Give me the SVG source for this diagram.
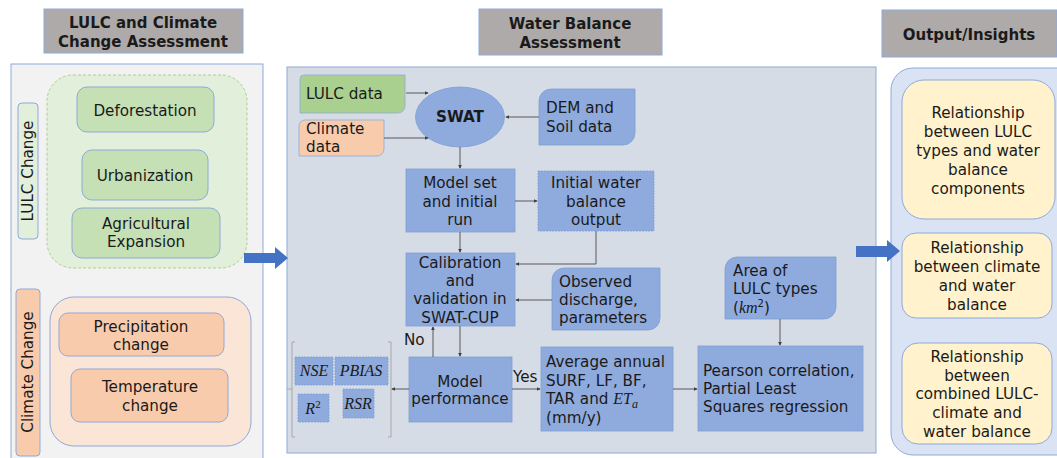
<svg xmlns="http://www.w3.org/2000/svg" width="1057" height="458" viewBox="0 0 1057 458">
<defs>
<marker id="ah" viewBox="0 0 6 6" refX="5" refY="3" markerWidth="4" markerHeight="4" orient="auto"><path d="M0,0 L6,3 L0,6 Z" fill="#404040"/></marker>
<style>
text{font-family:"DejaVu Sans",Verdana,sans-serif;font-size:15.2px;fill:#1a1a1a}
.c{text-anchor:middle}
.hd{font-weight:bold;font-size:15px;text-anchor:middle}
.hdr{fill:#aeaaaa;stroke:#8ea9db;stroke-width:1}
.nd{fill:#8faadc;stroke:#7f9fd6;stroke-width:0.8}
.gr{fill:#c5e0b4;stroke:#8ea9db;stroke-width:1}
.or{fill:#f8cbad;stroke:#8ea9db;stroke-width:1}
.ye{fill:#fff2cc;stroke:#8ea9db;stroke-width:1}
.m{font-family:"Liberation Serif","DejaVu Serif",serif;font-style:italic;font-size:16px}
.cn{fill:none;stroke:#595959;stroke-width:1;marker-end:url(#ah)}
.ln{fill:none;stroke:#595959;stroke-width:1}
.big{fill:#4472c4}
</style>
</defs>

<g id="panels">
<rect class="hdr" x="44" y="9" width="199" height="44"/>
<text class="hd" x="143" y="28">LULC and Climate</text>
<text class="hd" x="143" y="47">Change Assessment</text>
<rect x="11" y="64" width="252" height="400" fill="#f2f2f2" stroke="#8ea9db"/>

<rect class="hdr" x="479" y="9" width="183" height="46"/>
<text class="hd" x="570" y="29">Water Balance</text>
<text class="hd" x="570" y="48">Assessment</text>
<rect x="287" y="67" width="589" height="386" fill="#d6dce5" stroke="#8ea9db"/>

<rect class="hdr" x="882" y="10" width="175" height="47"/>
<text class="hd" x="969" y="40">Output/Insights</text>
<rect x="891" y="68" width="190" height="387" rx="22" fill="#dae3f3" stroke="#8ea9db"/>
</g>

<g id="lulc-change">
<rect x="18" y="103" width="20" height="136" rx="4" fill="#e2efda" stroke="#8ea9db"/>
<text class="c" transform="translate(33,171) rotate(-90)">LULC Change</text>
<rect x="47" y="75" width="200" height="193" rx="26" fill="#e2efda" stroke="#a9d08e" stroke-dasharray="3,2"/>
</g>
<g id="deforestation"><rect class="gr" x="77" y="87" width="137" height="45" rx="10"/><text class="c" x="145" y="116">Deforestation</text></g>
<g id="urbanization"><rect class="gr" x="82" y="150" width="126" height="50" rx="10"/><text class="c" x="145" y="181">Urbanization</text></g>
<g id="agricultural"><rect class="gr" x="72" y="208" width="148" height="50" rx="10"/><text class="c" x="146" y="229">Agricultural</text><text class="c" x="146" y="247">Expansion</text></g>

<g id="climate-change">
<rect x="16" y="289" width="24" height="167" rx="4" fill="#f8cbad" stroke="#8ea9db"/>
<text class="c" transform="translate(33,372) rotate(-90)">Climate Change</text>
<rect x="50" y="297" width="201" height="149" rx="24" fill="#fbe5d6" stroke="#8ea9db"/>
</g>
<g id="precipitation"><rect class="or" x="59" y="313" width="165" height="43" rx="9"/><text class="c" x="141" y="332">Precipitation</text><text class="c" x="141" y="350">change</text></g>
<g id="temperature"><rect class="or" x="71" y="369" width="157" height="53" rx="9"/><text class="c" x="150" y="392">Temperature</text><text class="c" x="150" y="411">change</text></g>

<g id="lulc-data"><path d="M304,75 H405 V106 A7,7 0 0 1 398,113 H300 V79 A4,4 0 0 1 304,75 Z" fill="#a9d08e" stroke="#8ea9db" stroke-width="0.8"/><text x="306" y="99">LULC data</text></g>
<g id="climate-data"><path d="M305,120 H384 V149 A7,7 0 0 1 377,156 H299 V126 A6,6 0 0 1 305,120 Z" fill="#f8cbad" stroke="#8ea9db" stroke-width="0.8"/><text x="306" y="134">Climate</text><text x="306" y="152">data</text></g>
<g id="swat"><ellipse class="nd" cx="460" cy="117" rx="44.5" ry="30"/><text class="c" x="460" y="122" font-weight="bold" font-size="15.5px">SWAT</text></g>
<g id="dem"><path class="nd" d="M551,89 H635 V133 A12,12 0 0 1 623,145 H539 V101 A12,12 0 0 1 551,89 Z"/><text x="546" y="113">DEM and</text><text x="546" y="132">Soil data</text></g>
<g id="model-set"><rect class="nd" x="406" y="169" width="109" height="63"/><text class="c" x="460" y="188">Model set</text><text class="c" x="460" y="207">and initial</text><text class="c" x="460" y="225">run</text></g>
<g id="initial-output"><rect class="nd" x="538" y="171" width="116" height="60" stroke-dasharray="2,1"/><text class="c" x="596" y="188">Initial water</text><text class="c" x="596" y="207">balance</text><text class="c" x="596" y="225">output</text></g>
<g id="calibration"><rect class="nd" x="406" y="253" width="109" height="73"/><text class="c" x="460" y="268">Calibration</text><text class="c" x="460" y="286">and</text><text class="c" x="460" y="304">validation in</text><text class="c" x="460" y="323">SWAT-CUP</text></g>
<g id="observed"><path class="nd" d="M564,268 H660 V318 A12,12 0 0 1 648,330 H552 V280 A12,12 0 0 1 564,268 Z"/><text x="559" y="287">Observed</text><text x="559" y="305">discharge,</text><text x="559" y="323">parameters</text></g>
<g id="model-performance"><rect class="nd" x="409" y="357" width="103" height="65"/><text class="c" x="460" y="387">Model</text><text class="c" x="460" y="404">performance</text></g>
<g id="metrics">
<path d="M295,342 H292 V437 H295 M388,342 H391 V437 H388 M287,389 H292" fill="none" stroke="#a6a6a6" stroke-width="1"/>
<rect class="nd" x="295" y="357" width="38" height="28" stroke-dasharray="2,1"/><text class="m c" x="314" y="376">NSE</text>
<rect class="nd" x="335" y="357" width="53" height="28" stroke-dasharray="2,1"/><text class="m c" x="361" y="376">PBIAS</text>
<rect class="nd" x="298" y="394" width="31" height="28" stroke-dasharray="2,1"/><text class="m c" x="313" y="414">R<tspan font-style="normal" font-size="11px" dy="-6">2</tspan></text>
<rect class="nd" x="343" y="389" width="31" height="29" stroke-dasharray="2,1"/><text class="m c" x="358" y="409">RSR</text>
</g>
<g id="average-annual"><rect class="nd" x="541" y="347" width="132" height="84"/><text x="546" y="367">Average annual</text><text x="546" y="386">SURF, LF, BF,</text><text x="546" y="404">TAR and <tspan font-family="Liberation Serif,serif" font-style="italic" font-size="16px">ET</tspan><tspan font-family="Liberation Serif,serif" font-style="italic" font-size="12px" dy="4">a</tspan></text><text x="546" y="423">(mm/y)</text></g>
<g id="area"><path class="nd" d="M737,257 H836 V307 A12,12 0 0 1 824,319 H725 V269 A12,12 0 0 1 737,257 Z"/><text x="733" y="276">Area of</text><text x="733" y="294">LULC types</text><text x="733" y="313">(<tspan font-family="Liberation Serif,serif" font-style="italic" font-size="16px">km</tspan><tspan font-size="10px" dy="-6">2</tspan><tspan dy="6">)</tspan></text></g>
<g id="pearson"><rect class="nd" x="698" y="346" width="165" height="85"/><text x="703" y="376">Pearson correlation,</text><text x="703" y="394">Partial Least</text><text x="703" y="412">Squares regression</text></g>

<g id="insight1"><rect class="ye" x="902" y="80" width="153" height="139" rx="22"/><text class="c" x="978" y="118">Relationship</text><text class="c" x="978" y="137">between LULC</text><text class="c" x="978" y="156">types and water</text><text class="c" x="978" y="175">balance</text><text class="c" x="978" y="194">components</text></g>
<g id="insight2"><rect class="ye" x="902" y="233" width="150" height="85" rx="14"/><text class="c" x="977" y="253">Relationship</text><text class="c" x="977" y="272">between climate</text><text class="c" x="977" y="291">and water</text><text class="c" x="977" y="310">balance</text></g>
<g id="insight3"><rect class="ye" x="902" y="343" width="150" height="101" rx="16"/><text class="c" x="977" y="362">Relationship</text><text class="c" x="977" y="381">between</text><text class="c" x="977" y="399">combined LULC-</text><text class="c" x="977" y="418">climate and</text><text class="c" x="977" y="437">water balance</text></g>

<g id="connectors">
<polygon class="big" points="244,253 275,253 275,247 288,258 275,269 275,263 244,263"/>
<polygon class="big" points="856,246 887,246 887,240 900,251 887,262 887,257 856,257"/>
<path class="cn" d="M406,93 H428"/>
<path class="cn" d="M384,138 H428"/>
<path class="cn" d="M539,117 H506"/>
<path class="cn" d="M460,147 V168"/>
<path class="cn" d="M515,201 H537"/>
<path class="cn" d="M596,231 V264 H516"/>
<path class="cn" d="M460,232 V252"/>
<path class="cn" d="M552,300 H516"/>
<path class="cn" d="M460,326 V356"/>
<path class="cn" d="M433,357 V327"/>
<path class="cn" d="M409,389 H392"/>
<path class="cn" d="M512,389 H540"/>
<path class="cn" d="M673,389 H697"/>
<path class="cn" d="M780,319 V345"/>
<text x="404" y="345">No</text>
<text x="513" y="382">Yes</text>
</g>
</svg>
